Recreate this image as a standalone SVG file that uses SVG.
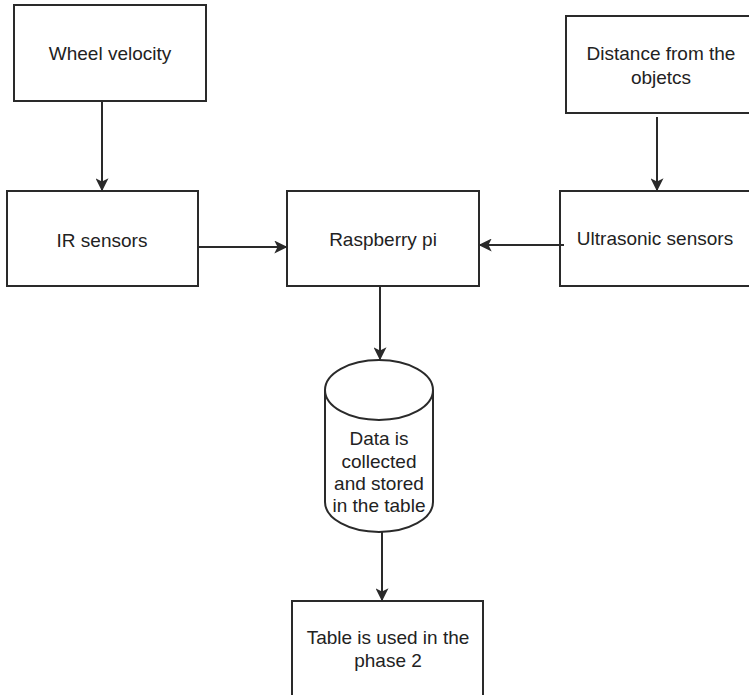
<svg xmlns="http://www.w3.org/2000/svg" width="749" height="695" viewBox="0 0 749 695">
<defs>
<style>
.box{fill:#ffffff;stroke:#2a2a2a;stroke-width:2}
.lbl{font-family:"Liberation Sans",Arial,sans-serif;font-size:19px;fill:#222222;text-anchor:middle}
.edge{stroke:#2a2a2a;stroke-width:2;fill:none;marker-end:url(#arr)}
</style>
<marker id="arr" viewBox="0 0 10 10" refX="9" refY="5" markerWidth="6.5" markerHeight="6.5" orient="auto" markerUnits="strokeWidth">
<path d="M0,0 L10,5 L0,10 L2.5,5 Z" fill="#2a2a2a"/>
</marker>
</defs>
<rect width="749" height="695" fill="#ffffff"/>
<g id="wheel">
<rect class="box" x="14" y="5" width="192" height="96"/>
<text class="lbl" x="110" y="60">Wheel velocity</text>
</g>
<g id="distance">
<rect class="box" x="566" y="16" width="191" height="97"/>
<text class="lbl" x="661" y="60">Distance from the</text>
<text class="lbl" x="661" y="84">objetcs</text>
</g>
<g id="ir">
<rect class="box" x="7" y="191" width="191" height="95"/>
<text class="lbl" x="102" y="247">IR sensors</text>
</g>
<g id="raspberry">
<rect class="box" x="287" y="191" width="192" height="95"/>
<text class="lbl" x="383" y="246">Raspberry pi</text>
</g>
<g id="ultrasonic">
<rect class="box" x="560" y="191" width="191" height="95"/>
<text class="lbl" x="655" y="245">Ultrasonic sensors</text>
</g>
<g id="data">
<path class="box" d="M325,390 A54,30 0 0 1 433,390 L433,502 A54,30 0 0 1 325,502 Z"/>
<path class="box" style="fill:none" d="M325,390 A54,30 0 0 0 433,390"/>
<text class="lbl" x="379" y="445">Data is</text>
<text class="lbl" x="379" y="468">collected</text>
<text class="lbl" x="379" y="490">and stored</text>
<text class="lbl" x="379" y="512">in the table</text>
</g>
<g id="table">
<rect class="box" x="292" y="601" width="191" height="100"/>
<text class="lbl" x="388" y="644">Table is used in the</text>
<text class="lbl" x="388" y="667">phase 2</text>
</g>
<g id="connectors">
<line class="edge" x1="102" y1="101" x2="102" y2="190"/>
<line class="edge" x1="657" y1="117" x2="657" y2="190"/>
<line class="edge" x1="198" y1="247" x2="286" y2="247"/>
<line class="edge" x1="564" y1="245" x2="480" y2="245"/>
<line class="edge" x1="380" y1="286" x2="380" y2="359"/>
<line class="edge" x1="382" y1="532" x2="382" y2="600"/>
</g>
</svg>
